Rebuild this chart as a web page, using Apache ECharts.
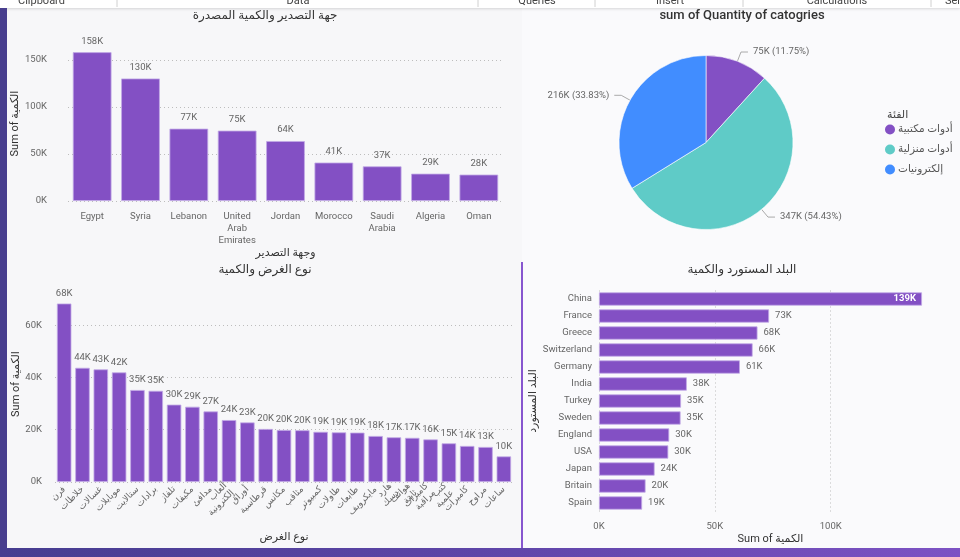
<!DOCTYPE html>
<html>
<head>
<meta charset="utf-8">
<title>Quantity dashboard</title>
<script src="https://cdn.jsdelivr.net/npm/echarts@6/dist/echarts.min.js"></script>
<style>
  html, body { margin: 0; padding: 0; background: #f9f9fb; }
  #chart { width: 960px; height: 557px; }
</style>
</head>
<body>
<div id="chart"></div>
<script>
// export destinations (top left)
const exportCountries = ['Egypt', 'Syria', 'Lebanon', 'United\nArab\nEmirates', 'Jordan', 'Morocco', 'Saudi\nArabia', 'Algeria', 'Oman']
const exportQty = [158400, 130400, 77000, 74900, 63800, 40900, 36900, 29100, 28100]

// categories (pie)
const categoryNames = ['أدوات مكتبية', 'أدوات منزلية', 'إلكترونيات']
const categoryQty = [74946, 347244, 215810]

// purpose types (bottom left)
const purposeTypes = [
  'فرن', 'خلاطات', 'غسالات', 'موبايلات', 'ستالايت', 'برادات', 'تلفاز', 'مكيفات', 'مدافئ',
  'ألعاب\nإلكترونية', 'أوراق', 'قرطاسية', 'مكانس', 'مثاقب', 'كمبيوتر', 'طاولات', 'طابعات',
  'مايكرويف', 'هارد\nدسك', 'هواتف\nثابتة', 'كاميرات\nمراقبة', 'كتب\nعلمية', 'كاميرات', 'مراوح', 'ساعات'
]
const purposeQty = [
  68300, 43700, 43100, 41950, 35200, 34900, 29600, 28800, 27000, 23700, 22800, 20300, 19900,
  19800, 19200, 19000, 18900, 17600, 17100, 16900, 16300, 14800, 13800, 13400, 9800
]

// importing countries (bottom right)
const importCountries = ['China', 'France', 'Greece', 'Switzerland', 'Germany', 'India', 'Turkey', 'Sweden', 'England', 'USA', 'Japan', 'Britain', 'Spain']
const importQty = [139400, 73400, 68400, 66300, 60800, 37900, 35400, 35200, 30300, 29900, 24000, 20100, 18600]

// top ribbon labels
const ribbonLabels = ['Clipboard', 'Data', 'Queries', 'Insert', 'Calculations', 'Ser']

const FONT = "Roboto, 'DejaVu Sans', sans-serif"
const BAR = '#8350c4'
const PIE_COLORS = ['#8350c4', '#5fcbc7', '#418dff']
const kFmt = v => Math.round(v / 1000) + 'K'

const chart = echarts.init(document.getElementById('chart'))

const labelStyle = { fontFamily: FONT, fontSize: 9.5, color: '#666' }
const nameStyle = { fontFamily: FONT, fontSize: 11, color: '#333' }
const gridLine = { show: true, showMaxLine: false, lineStyle: { type: [1, 3], color: '#bdbdbd', width: 1 } }

const catTotal = categoryQty.reduce((a, b) => a + b, 0)
const importMax = Math.max(...importQty)

const ribbonX = [18, 298, 537, 670, 837, 945]
const ribbonAlign = ['left', 'center', 'center', 'center', 'center', 'left']
const ribbonDividers = [117, 478, 595, 743, 931]

const option = {
  backgroundColor: '#fafafc',
  animation: false,
  textStyle: { fontFamily: FONT },
  title: [
    { text: 'جهة التصدير والكمية المصدرة', left: 265, top: 10, padding: 0, textAlign: 'center',
      textStyle: { fontFamily: FONT, fontSize: 12, fontWeight: 'normal', color: '#333' } },
    { text: 'sum of Quantity of catogries', left: 742, top: 9, padding: 0, textAlign: 'center',
      textStyle: { fontFamily: FONT, fontSize: 13, fontWeight: 500, color: '#333' } },
    { text: 'نوع الغرض والكمية', left: 265, top: 264, padding: 0, textAlign: 'center',
      textStyle: { fontFamily: FONT, fontSize: 12, fontWeight: 'normal', color: '#333' } },
    { text: 'البلد المستورد والكمية', left: 742, top: 264, padding: 0, textAlign: 'center',
      textStyle: { fontFamily: FONT, fontSize: 12, fontWeight: 'normal', color: '#333' } },
    { text: 'الفئة', left: 887, top: 110, padding: 0,
      textStyle: { fontFamily: FONT, fontSize: 11, fontWeight: 'normal', color: '#444' } }
  ],
  legend: {
    orient: 'vertical',
    left: 885,
    top: 124,
    padding: 0,
    itemGap: 9,
    itemWidth: 10,
    itemHeight: 10,
    icon: 'circle',
    itemStyle: { borderWidth: 0 },
    textStyle: { fontFamily: FONT, fontSize: 10.5, color: '#555', padding: [0, 0, 0, -2] },
    data: categoryNames
  },
  grid: [
    { left: 68, right: 457, top: 46, bottom: 356 },
    { left: 55, right: 447, top: 286, bottom: 75 },
    { left: 599, right: 38, top: 290.5, bottom: 45.5 }
  ],
  xAxis: [
    {
      type: 'category', gridIndex: 0, data: exportCountries,
      axisLine: { show: false }, axisTick: { show: false },
      axisLabel: { ...labelStyle, margin: 10, lineHeight: 12, interval: 0 },
      name: 'وجهة التصدير', nameLocation: 'middle', nameGap: 44, nameTextStyle: nameStyle
    },
    {
      type: 'category', gridIndex: 1, data: purposeTypes,
      axisLine: { show: false }, axisTick: { show: false },
      axisLabel: { ...labelStyle, fontSize: 9, rotate: 45, margin: 6, lineHeight: 10, interval: 0 },
      name: 'نوع الغرض', nameLocation: 'middle', nameGap: 50, nameTextStyle: nameStyle
    },
    {
      type: 'value', gridIndex: 2, min: 0, max: v => v.max, interval: 50000,
      axisLine: { show: false }, axisTick: { show: false },
      axisLabel: { ...labelStyle, formatter: kFmt, showMaxLabel: false, margin: 10 },
      splitLine: gridLine,
      name: 'Sum of الكمية', nameLocation: 'middle', nameGap: 22,
      nameTextStyle: { ...nameStyle, padding: [0, 0, 0, 20] }
    }
  ],
  yAxis: [
    {
      type: 'value', gridIndex: 0, min: 0, max: 165000, interval: 50000,
      axisLine: { show: false }, axisTick: { show: false },
      axisLabel: { ...labelStyle, formatter: kFmt, showMaxLabel: false, margin: 21 },
      splitLine: gridLine,
      name: 'Sum of الكمية', nameLocation: 'middle', nameGap: 41, nameTextStyle: nameStyle
    },
    {
      type: 'value', gridIndex: 1, min: 0, max: 75000, interval: 20000,
      axisLine: { show: false }, axisTick: { show: false },
      axisLabel: { ...labelStyle, formatter: kFmt, showMaxLabel: false, margin: 13 },
      splitLine: gridLine,
      name: 'Sum of الكمية', nameLocation: 'middle', nameGap: 28, nameTextStyle: nameStyle
    },
    {
      type: 'category', gridIndex: 2, data: importCountries, inverse: true,
      axisLine: { show: false }, axisTick: { show: false },
      axisLabel: { ...labelStyle, margin: 7, interval: 0 },
      name: 'البلد المستورد', nameLocation: 'middle', nameGap: 59, nameTextStyle: nameStyle
    }
  ],
  series: [
    {
      type: 'bar', xAxisIndex: 0, yAxisIndex: 0, data: exportQty,
      barCategoryGap: '20%',
      itemStyle: { color: BAR, borderColor: '#c2a9e6', borderWidth: 0.8 },
      label: { show: true, position: 'top', distance: 6, ...labelStyle, formatter: p => kFmt(p.value) }
    },
    {
      type: 'bar', xAxisIndex: 1, yAxisIndex: 1, data: purposeQty,
      barCategoryGap: '21%',
      itemStyle: { color: BAR, borderColor: '#c2a9e6', borderWidth: 0.8 },
      label: { show: true, position: 'top', distance: 5, ...labelStyle, formatter: p => kFmt(p.value) }
    },
    {
      type: 'bar', xAxisIndex: 2, yAxisIndex: 2,
      data: importQty.map(v => v > importMax * 0.9
        ? { value: v, label: { position: 'insideRight', color: '#fff', fontWeight: 'bold' } }
        : v),
      barCategoryGap: '22%',
      itemStyle: { color: BAR, borderColor: '#c2a9e6', borderWidth: 0.8 },
      label: { show: true, position: 'right', distance: 6, ...labelStyle, formatter: p => kFmt(p.value) }
    },
    {
      type: 'pie',
      center: [706, 142.5],
      radius: 87,
      startAngle: 90,
      clockwise: true,
      data: categoryNames.map((n, i) => ({ name: n, value: categoryQty[i] })),
      color: PIE_COLORS,
      itemStyle: { borderColor: '#ffffff', borderWidth: 0.6 },
      label: {
        ...labelStyle,
        formatter: p => kFmt(p.value) + ' (' + (p.value / catTotal * 100).toFixed(2) + '%)'
      },
      labelLine: { length: 10, length2: 7, lineStyle: { color: '#aaa', width: 1 } },
      emphasis: { disabled: true }
    }
  ],
  graphic: [
    // left panel background
    { type: 'rect', z: -10, shape: { x: 7, y: 8, width: 515, height: 540 }, style: { fill: '#f7f7f9' } },
    // top ribbon
    { type: 'rect', z: 10, shape: { x: 0, y: 0, width: 960, height: 8 },
      style: { fill: '#ffffff', shadowBlur: 3, shadowColor: 'rgba(0,0,0,0.15)', shadowOffsetY: 1 } },
    ...ribbonLabels.map((t, i) => ({
      type: 'text', z: 11, x: ribbonX[i], y: 1,
      style: { text: t, fill: '#444', font: '11px ' + FONT, textAlign: ribbonAlign[i], textVerticalAlign: 'middle' }
    })),
    ...ribbonDividers.map(x => ({
      type: 'line', z: 11, shape: { x1: x, y1: 0, x2: x, y2: 7 }, style: { stroke: '#d0d0d0', lineWidth: 1 }
    })),
    // left edge strip
    { type: 'rect', z: 10, shape: { x: 0, y: 8, width: 7, height: 541 }, style: { fill: '#483e8e' } },
    // bottom strip
    { type: 'rect', z: 10, shape: { x: 0, y: 548, width: 960, height: 9 },
      style: {
        fill: new echarts.graphic.LinearGradient(0, 0, 1, 0, [
          { offset: 0, color: '#463d90' },
          { offset: 0.5, color: '#5e45a8' },
          { offset: 1, color: '#7d52c4' }
        ])
      } },
    // divider between bottom charts
    { type: 'line', z: 10, shape: { x1: 522, y1: 262, x2: 522, y2: 548 }, style: { stroke: '#8756cf', lineWidth: 2 } }
  ]
}

chart.setOption(option)
</script>
</body>
</html>
